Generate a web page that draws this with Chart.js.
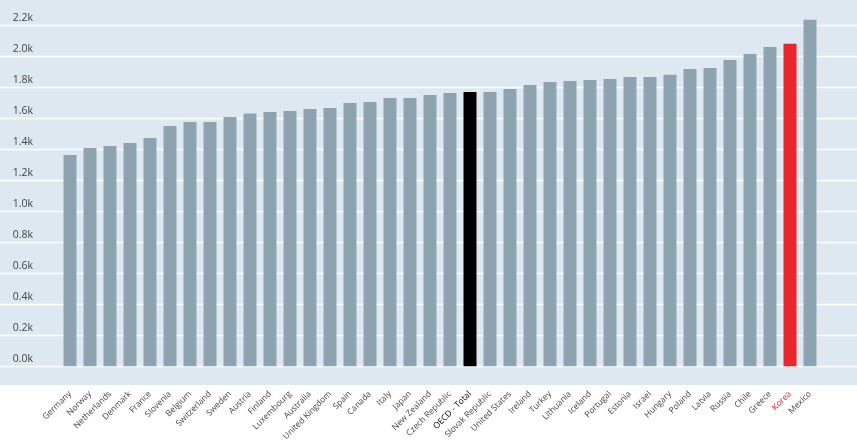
<!DOCTYPE html>
<html>
<head>
<meta charset="utf-8">
<script src="https://cdn.jsdelivr.net/npm/chart.js@4.4.1/dist/chart.umd.min.js"></script>
<style>
  html, body { margin: 0; padding: 0; background: #fff; }
  #wrap { width: 857px; height: 442px; position: relative; }
</style>
</head>
<body>
<div id="wrap"><canvas id="hoursChart"></canvas></div>
<script>
// countries, sorted by hours worked
const countries = ['Germany', 'Norway', 'Netherlands', 'Denmark', 'France', 'Slovenia', 'Belgium',
    'Switzerland', 'Sweden', 'Austria', 'Finland', 'Luxembourg', 'Australia', 'United Kingdom',
    'Spain', 'Canada', 'Italy', 'Japan', 'New Zealand', 'Czech Republic', 'OECD - Total',
    'Slovak Republic', 'United States', 'Ireland', 'Turkey', 'Lithuania', 'Iceland', 'Portugal',
    'Estonia', 'Israel', 'Hungary', 'Poland', 'Latvia', 'Russia', 'Chile', 'Greece', 'Korea', 'Mexico'];

const hours = [1363, 1408, 1421, 1441, 1473, 1550, 1576, 1576, 1608, 1630, 1641, 1647, 1660, 1666,
    1699, 1705, 1731, 1731, 1750, 1763, 1770, 1770, 1789, 1815, 1834, 1841, 1847, 1854,
    1867, 1867, 1880, 1918, 1925, 1976, 2015, 2060, 2080, 2235];

const yTicks = [0, 200, 400, 600, 800, 1000, 1200, 1400, 1600, 1800, 2000, 2200];

const barGrey = '#8ea3b0';
const oecdColor = '#000000';
const koreaColor = '#e8262b';
const panelBg = '#dde8f0';

const barColors = countries.map(c => c === 'OECD - Total' ? oecdColor : (c === 'Korea' ? koreaColor : barGrey));

// light blue panel and full-width white gridlines
const panelPlugin = {
    id: 'panel',
    beforeDraw(chart) {
        const ctx = chart.ctx;
        const area = chart.chartArea;
        const y = chart.scales.y;
        ctx.save();
        ctx.fillStyle = panelBg;
        ctx.fillRect(0, 0, chart.width, area.bottom);
        ctx.strokeStyle = '#ffffff';
        ctx.lineWidth = 1.5;
        y.ticks.forEach(t => {
            const py = Math.round(y.getPixelForValue(t.value)) + 0.5;
            ctx.beginPath();
            ctx.moveTo(0, py);
            ctx.lineTo(chart.width, py);
            ctx.stroke();
        });
        ctx.restore();
    }
};

const ctx = document.getElementById('hoursChart').getContext('2d');
new Chart(ctx, {
    type: 'bar',
    data: {
        labels: countries,
        datasets: [{
            label: 'Hours worked',
            data: hours,
            backgroundColor: barColors,
            categoryPercentage: 1,
            barPercentage: 0.65
        }]
    },
    options: {
        responsive: true,
        maintainAspectRatio: false,
        animation: false,
        layout: { padding: { top: 0, right: 37, left: 0, bottom: 0 } },
        plugins: {
            legend: { display: false },
            tooltip: { enabled: false }
        },
        scales: {
            x: {
                grid: { display: false, drawTicks: false },
                border: { display: false },
                ticks: {
                    autoSkip: false,
                    minRotation: 45,
                    maxRotation: 45,
                    padding: 4,
                    font: { family: 'Open Sans', size: 8.5 },
                    color: c => countries[c.index] === 'Korea' ? koreaColor :
                        (countries[c.index] === 'OECD - Total' ? '#000' : '#444')
                },
                afterFit: scale => { scale.height = 57; }
            },
            y: {
                min: -121,
                max: 2363,
                grid: { display: false, drawTicks: false },
                border: { display: false },
                afterBuildTicks: scale => {
                    scale.ticks = yTicks.map(v => ({ value: v }));
                },
                ticks: {
                    padding: 27,
                    labelOffset: -7,
                    font: { family: 'Open Sans', size: 10.5 },
                    color: '#444',
                    callback: v => (v / 1000).toFixed(1) + 'k'
                },
                afterFit: scale => {
                    scale.width = 60;
                    scale.paddingTop = 0;
                    scale.paddingBottom = 0;
                }
            }
        }
    },
    plugins: [panelPlugin]
});
</script>
</body>
</html>
